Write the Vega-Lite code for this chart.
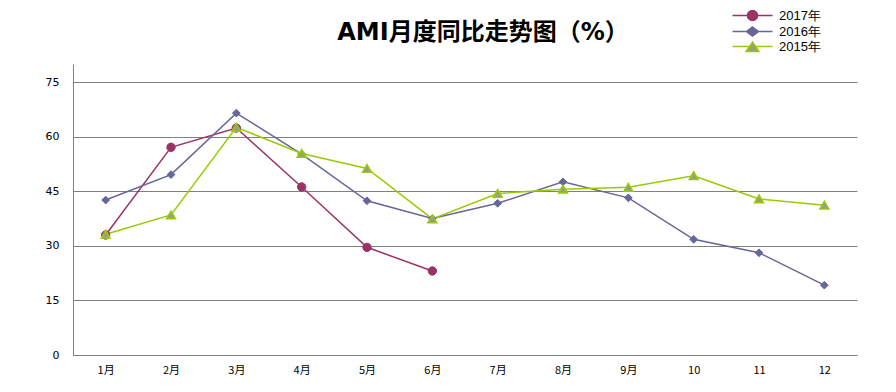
{
  "$schema": "https://vega.github.io/schema/vega-lite/v6.json",
  "width": 784,
  "height": 291,
  "autosize": {"type": "none"},
  "padding": {"left": 73, "top": 64, "right": 39, "bottom": 37},
  "background": "white",
  "title": {
    "text": "AMI月度同比走势图（%）",
    "font": "DejaVu Sans, Noto Sans CJK SC",
    "fontSize": 24,
    "fontWeight": "bold",
    "color": "#000000",
    "anchor": "middle",
    "dx": 18,
    "dy": 27,
    "baseline": "bottom",
    "offset": -33
  },
  "data": {
    "values": [
      {"month": "1月", "year": "2017年", "value": 33.0},
      {"month": "2月", "year": "2017年", "value": 57.1},
      {"month": "3月", "year": "2017年", "value": 62.4},
      {"month": "4月", "year": "2017年", "value": 46.2},
      {"month": "5月", "year": "2017年", "value": 29.6},
      {"month": "6月", "year": "2017年", "value": 23.1},
      {"month": "1月", "year": "2016年", "value": 42.6},
      {"month": "2月", "year": "2016年", "value": 49.6},
      {"month": "3月", "year": "2016年", "value": 66.5},
      {"month": "4月", "year": "2016年", "value": 55.2},
      {"month": "5月", "year": "2016年", "value": 42.4},
      {"month": "6月", "year": "2016年", "value": 37.5},
      {"month": "7月", "year": "2016年", "value": 41.7},
      {"month": "8月", "year": "2016年", "value": 47.6},
      {"month": "9月", "year": "2016年", "value": 43.2},
      {"month": "10", "year": "2016年", "value": 31.8},
      {"month": "11", "year": "2016年", "value": 28.1},
      {"month": "12", "year": "2016年", "value": 19.2},
      {"month": "1月", "year": "2015年", "value": 33.2},
      {"month": "2月", "year": "2015年", "value": 38.5},
      {"month": "3月", "year": "2015年", "value": 62.6},
      {"month": "4月", "year": "2015年", "value": 55.4},
      {"month": "5月", "year": "2015年", "value": 51.3},
      {"month": "6月", "year": "2015年", "value": 37.4},
      {"month": "7月", "year": "2015年", "value": 44.4},
      {"month": "8月", "year": "2015年", "value": 45.6},
      {"month": "9月", "year": "2015年", "value": 46.1},
      {"month": "10", "year": "2015年", "value": 49.3},
      {"month": "11", "year": "2015年", "value": 42.9},
      {"month": "12", "year": "2015年", "value": 41.2}
    ]
  },
  "encoding": {
    "x": {
      "field": "month",
      "type": "ordinal",
      "sort": ["1月", "2月", "3月", "4月", "5月", "6月", "7月", "8月", "9月", "10", "11", "12"],
      "scale": {"type": "point", "padding": 0.5},
      "axis": {
        "title": null,
        "ticks": false,
        "labelAngle": 0,
        "domainColor": "#808080",
        "labelPadding": 9,
        "labelFont": "Noto Sans CJK SC",
        "labelFontSize": 11,
        "labelColor": "#000000",
        "grid": false
      }
    },
    "y": {
      "field": "value",
      "type": "quantitative",
      "scale": {"domain": [0, 80], "nice": false},
      "axis": {
        "title": null,
        "values": [0, 15, 30, 45, 60, 75],
        "ticks": false,
        "grid": true,
        "gridColor": "#808080",
        "gridWidth": 1,
        "domainColor": "#808080",
        "labelFont": "DejaVu Sans",
        "labelFontSize": 11,
        "labelColor": "#000000",
        "labelPadding": 14
      }
    }
  },
  "layer": [
    {
      "mark": {"type": "line", "strokeWidth": 1.5},
      "encoding": {
        "color": {
          "field": "year",
          "type": "nominal",
          "scale": {"domain": ["2017年", "2016年", "2015年"], "range": ["#993366", "#666699", "#99CC00"]},
          "legend": {
            "orient": "none",
            "legendX": 673,
            "legendY": -55,
            "title": null,
            "symbolSize": 100,
            "symbolStrokeWidth": 1.5,
            "symbolType": {"expr": "datum.value === '2017年' ? 'M-4,0H-1M1,0H4M-1,0A1,1 0 1,1 1,0A1,1 0 1,1 -1,0Z' : datum.value === '2016年' ? 'M-4,0H-1.2M1.2,0H4M0,-0.9L1.2,0L0,0.9L-1.2,0Z' : 'M-4,0H-0.6M0.6,0H4M0,-0.9L1.3,1L-1.3,1Z'"},
            "symbolFillColor": {"expr": "datum.value === '2017年' ? '#993366' : datum.value === '2016年' ? '#666699' : '#999999'"},
            "labelOffset": 20,
            "rowPadding": 0,
            "labelFont": "Liberation Sans",
            "labelFontSize": 13,
            "labelColor": "#000000"
          }
        }
      }
    },
    {
      "transform": [{"filter": "datum.year === '2017年'"}],
      "mark": {"type": "point", "shape": "circle", "filled": true, "opacity": 1, "fill": "#993366", "stroke": "#993366", "strokeWidth": 1, "size": 70}
    },
    {
      "transform": [{"filter": "datum.year === '2016年'"}],
      "mark": {"type": "point", "shape": "diamond", "filled": true, "opacity": 1, "fill": "#666699", "stroke": "#666699", "strokeWidth": 1, "size": 60}
    },
    {
      "transform": [{"filter": "datum.year === '2015年'"}],
      "mark": {"type": "point", "shape": "triangle-up", "filled": true, "opacity": 1, "fill": "#999999", "stroke": "#99CC00", "strokeWidth": 1.5, "size": 80}
    }
  ],
  "config": {
    "view": {"stroke": null}
  }
}
